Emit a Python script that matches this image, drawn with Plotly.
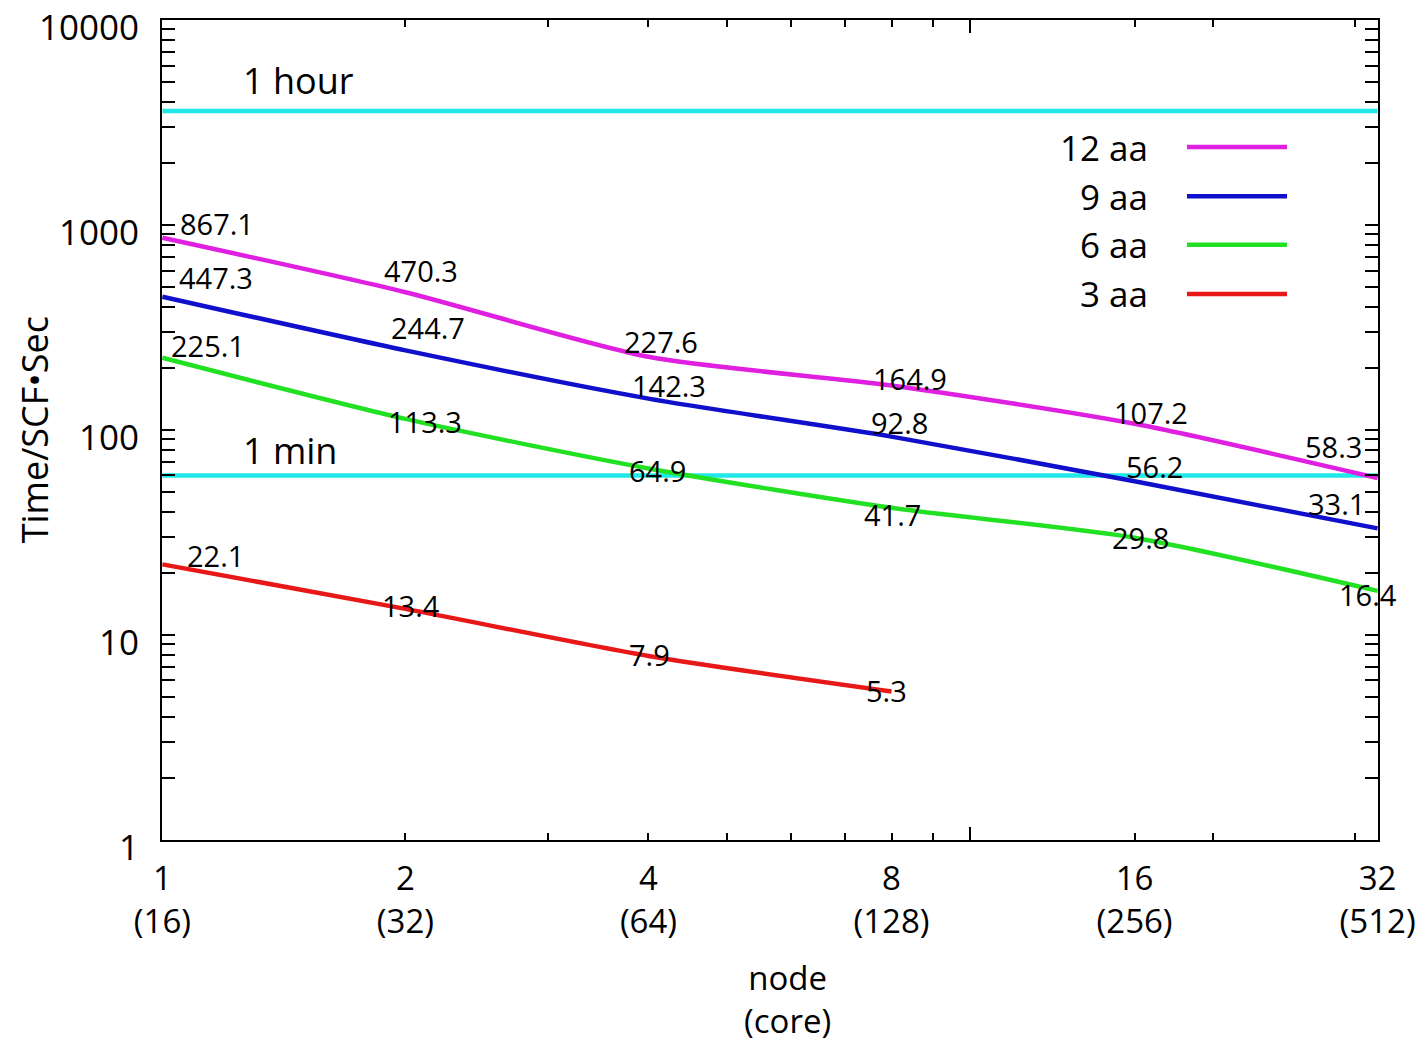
import numpy as np
import plotly.graph_objects as go

# ---------------- data ----------------
nodes = [1, 2, 4, 8, 16, 32]
cores = [16, 32, 64, 128, 256, 512]
series_names = ["12 aa", "9 aa", "6 aa", "3 aa"]
t_12aa = [867.1, 470.3, 227.6, 164.9, 107.2, 58.3]
t_9aa = [447.3, 244.7, 142.3, 92.8, 56.2, 33.1]
t_6aa = [225.1, 113.3, 64.9, 41.7, 29.8, 16.4]
t_3aa = [22.1, 13.4, 7.9, 5.3]
ref_names = ["1 hour", "1 min"]
ref_values = [3600, 60]
y_tick_vals = [1, 10, 100, 1000, 10000]

# ---------------- style ----------------
colors = ["#e020e0", "#1010cc", "#22e022", "#e81818"]
ref_color = "#20e8e8"
FONT = "Open Sans"
# label offsets in pixels (dx, dy up) per point
offsets = [
    [(55, 14), (16, 22), (13, 15), (18, 7), (16, 11), (-44, 32)],
    [(54, 19), (23, 23), (21, 13), (8, 14), (20, 15), (-41, 25)],
    [(46, 12), (20, -3), (9, -2), (1, -7), (6, 0), (-10, -4)],
    [(53, 9), (6, 3), (1, 1), (-5, 1)],
]

series = [t_12aa, t_9aa, t_6aa, t_3aa]

fig = go.Figure()

# reference lines
for name, v in zip(ref_names, ref_values):
    fig.add_trace(go.Scatter(x=[nodes[0], nodes[-1]], y=[v, v], mode="lines",
                             line=dict(color=ref_color, width=4.5),
                             showlegend=False, hoverinfo="skip"))

for name, vals, col in zip(series_names, series, colors):
    fig.add_trace(go.Scatter(x=nodes[:len(vals)], y=vals, mode="lines",
                             line=dict(color=col, width=4.5, shape="spline", smoothing=0.7),
                             name=name, showlegend=False))

annotations = []
for vals, offs in zip(series, offsets):
    for xv, yv, (dx, dy) in zip(nodes, vals, offs):
        annotations.append(dict(x=np.log10(xv), y=np.log10(yv), xref="x", yref="y",
                                text=f"{yv:g}", showarrow=False,
                                xshift=dx, yshift=dy, xanchor="center", yanchor="middle",
                                font=dict(family=FONT, size=29, color="black")))

# reference line labels
ref_shifts = [31, 25]
for name, v, s in zip(ref_names, ref_values, ref_shifts):
    annotations.append(dict(x=np.log10(1.25), y=np.log10(v), xref="x", yref="y",
                            text=name, showarrow=False, xanchor="left", yanchor="middle",
                            yshift=s, font=dict(family=FONT, size=36, color="black")))

# custom legend (text left, line sample right)
leg_y = [0.845, 0.785, 0.726, 0.666]
for name, col, yy in zip(series_names, colors, leg_y):
    annotations.append(dict(x=0.8125, y=yy, xref="paper", yref="paper", text=name,
                            showarrow=False, xanchor="right", yanchor="middle",
                            font=dict(family=FONT, size=35, color="black")))
shapes = []
for col, yy in zip(colors, leg_y):
    shapes.append(dict(type="line", xref="paper", yref="paper", x0=0.8429, x1=0.9252,
                       y0=yy, y1=yy, line=dict(color=col, width=4.5)))

# axis titles as annotations for tight control
annotations.append(dict(x=0.514, y=-0.138, xref="paper", yref="paper",
                        text="node<br>(core)", showarrow=False, xanchor="center", yanchor="top",
                        font=dict(family=FONT, size=33, color="black")))
annotations.append(dict(x=-0.105, y=0.5, xref="paper", yref="paper", textangle=-90,
                        text="Time/SCF•Sec", showarrow=False, xanchor="center", yanchor="middle",
                        font=dict(family=FONT, size=36, color="black")))

xr = [-0.0005, np.log10(32) + 0.0005]
fig.update_layout(
    width=1418, height=1038,
    margin=dict(l=154, r=48, t=12, b=206),
    paper_bgcolor="white", plot_bgcolor="white",
    font=dict(family=FONT, color="black"),
    annotations=annotations, shapes=shapes,
    xaxis=dict(type="log", range=xr, showgrid=False, zeroline=False, automargin=False,
               tickvals=nodes, ticktext=[f"{n}<br>({c})" for n, c in zip(nodes, cores)],
               ticks="inside", ticklen=7, tickwidth=2, tickcolor="black",
               showline=True, linecolor="black", linewidth=2, mirror="allticks",
               tickfont=dict(family=FONT, size=33, color="black"),
               ticklabelstandoff=8, ticklabeloverflow="allow",
               minor=dict(tickvals=[3, 5, 6, 7, 9, 20, 30], ticks="inside", ticklen=7,
                          tickwidth=2, tickcolor="black", showgrid=False)),
    xaxis2=dict(type="log", range=xr, overlaying="x", side="bottom", showgrid=False,
                zeroline=False, tickvals=[1, 10], showticklabels=False, automargin=False,
                ticks="inside", ticklen=13, tickwidth=2, tickcolor="black",
                mirror="allticks", showline=False),
    yaxis=dict(type="log", range=[-0.0005, 4.0005], showgrid=False, zeroline=False,
               automargin=False,
               tickvals=y_tick_vals, ticktext=[str(v) for v in y_tick_vals],
               ticks="inside", ticklen=13, tickwidth=2, tickcolor="black",
               showline=True, linecolor="black", linewidth=2, mirror="allticks",
               tickfont=dict(family=FONT, size=35, color="black"),
               ticklabelstandoff=14, ticklabeloverflow="allow", ticklabelshift=8,
               minor=dict(tickvals=[m * 10 ** k for k in range(4) for m in range(2, 10)],
                          ticks="inside", ticklen=7, tickwidth=2, tickcolor="black",
                          showgrid=False)),
)
# dummy trace on xaxis2 so it is drawn
fig.add_trace(go.Scatter(x=[1], y=[1], xaxis="x2", mode="markers",
                         marker=dict(opacity=0), showlegend=False, hoverinfo="skip"))

fig.write_html("out.html")
